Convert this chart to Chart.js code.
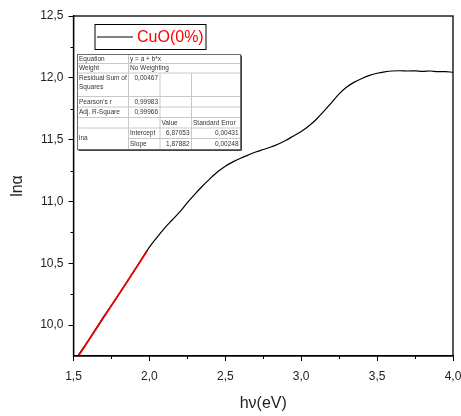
<!DOCTYPE html>
<html>
<head>
<meta charset="utf-8">
<title>CuO (0%)</title>
<script src="https://cdn.jsdelivr.net/npm/chart.js@4.4.1/dist/chart.umd.min.js"></script>
<style>
    html, body { margin: 0; padding: 0; background: #fff; }
    #wrap { width: 461px; height: 416px; }
</style>
</head>
<body>
<div id="wrap"><canvas id="lnChart" width="461" height="416"></canvas></div>
<script>
// photon energy (eV) and ln(alpha) of the measured curve
const energy = [
    1.50, 1.60, 1.70, 1.80, 1.90, 2.00, 2.05, 2.10, 2.15, 2.20,
    2.25, 2.30, 2.35, 2.40, 2.45, 2.50, 2.55, 2.60, 2.65, 2.70,
    2.75, 2.80, 2.85, 2.90, 2.95, 3.00, 3.05, 3.10, 3.15, 3.20,
    3.25, 3.30, 3.35, 3.40, 3.45, 3.50, 3.55, 3.60, 3.65, 3.70,
    3.75, 3.80, 3.85, 3.90, 3.95, 4.00
];
const lnAlpha = [
    9.70, 9.88, 10.07, 10.25, 10.44, 10.63, 10.71, 10.785, 10.85, 10.915,
    10.99, 11.06, 11.125, 11.185, 11.24, 11.285, 11.32, 11.35, 11.375, 11.40,
    11.42, 11.44, 11.465, 11.495, 11.53, 11.565, 11.61, 11.665, 11.73, 11.80,
    11.87, 11.925, 11.965, 11.995, 12.02, 12.037, 12.048, 12.055, 12.057, 12.055,
    12.056, 12.052, 12.055, 12.05, 12.05, 12.045
];

// linear fit y = a + b*x over the low energy part
const fitIntercept = 6.87053;
const fitSlope = 1.87882;
const fitRange = [1.50, 1.985];

// fit report table
const fitTable = {
    equation: 'y = a + b*x',
    weight: 'No Weighting',
    rss: '0,00467',
    pearson: '0,99983',
    adjR2: '0,99966',
    intercept: ['6,87053', '0,00431'],
    slope: ['1,87882', '0,00248']
};

const xTicks = [1.5, 2.0, 2.5, 3.0, 3.5, 4.0];
const yTicks = [10.0, 10.5, 11.0, 11.5, 12.0, 12.5];

const curvePoints = energy.map((e, i) => ({ x: e, y: lnAlpha[i] }));
const fitPoints = fitRange.map(e => ({ x: e, y: fitIntercept + fitSlope * e }));

const comma = v => v.toFixed(1).replace('.', ',');
const isMajor = (list, v) => list.some(t => Math.abs(t - v) < 1e-6);

// box around the plot + short minor ticks
const framePlugin = {
    id: 'frame',
    afterDraw(chart) {
        const { ctx, chartArea: a, scales } = chart;
        ctx.save();
        ctx.strokeStyle = '#000';
        ctx.lineWidth = 1.3;
        ctx.strokeRect(a.left, a.top, a.right - a.left, a.bottom - a.top);

        ctx.lineWidth = 1;
        ctx.beginPath();
        scales.x.ticks.forEach(t => {
            if (isMajor(xTicks, t.value)) return;
            const px = Math.round(scales.x.getPixelForValue(t.value)) + 0.5;
            ctx.moveTo(px, a.bottom);
            ctx.lineTo(px, a.bottom + 3);
        });
        scales.y.ticks.forEach(t => {
            if (isMajor(yTicks, t.value) || t.value < 10) return;
            const py = Math.round(scales.y.getPixelForValue(t.value)) + 0.5;
            ctx.moveTo(a.left, py);
            ctx.lineTo(a.left - 3, py);
        });
        ctx.stroke();
        ctx.restore();
    }
};

// legend box inside the plot
const legendPlugin = {
    id: 'boxLegend',
    afterDraw(chart) {
        const { ctx, chartArea: a } = chart;
        const ds = chart.data.datasets[1];
        const x = a.left + 21.5, y = a.top + 8.5, w = 111, h = 25;
        ctx.save();
        ctx.fillStyle = '#fff';
        ctx.fillRect(x, y, w, h);
        ctx.strokeStyle = '#000';
        ctx.lineWidth = 1;
        ctx.strokeRect(x, y, w, h);
        ctx.beginPath();
        ctx.moveTo(x + 2, y + 12.5);
        ctx.lineTo(x + 38, y + 12.5);
        ctx.strokeStyle = ds.borderColor;
        ctx.stroke();
        ctx.fillStyle = '#ff0000';
        ctx.font = '16px "Liberation Sans", Arial, sans-serif';
        ctx.textBaseline = 'middle';
        ctx.fillText(ds.label, x + 42, y + 13.5);
        ctx.restore();
    }
};

// fit report drawn as a small grid
const tablePlugin = {
    id: 'fitTable',
    afterDraw(chart) {
        const { ctx, chartArea: a } = chart;
        const x0 = a.left + 4, y0 = a.top + 38.5;
        const cols = [51, 31.5, 31.5, 49];
        const rows = [9, 9.5, 23.5, 10.5, 10.5, 10.5, 10.5, 11];
        const cx = [x0];
        cols.forEach(c => cx.push(cx[cx.length - 1] + c));
        const ry = [y0];
        rows.forEach(r => ry.push(ry[ry.length - 1] + r));
        const W = cx[4] - x0, H = ry[8] - y0;

        ctx.save();
        ctx.fillStyle = '#fff';
        ctx.fillRect(x0, y0, W, H);

        const line = (xa, ya, xb, yb) => {
            ctx.moveTo(xa, ya);
            ctx.lineTo(xb, yb);
        };
        ctx.strokeStyle = '#c8c8c8';
        ctx.lineWidth = 1;
        ctx.beginPath();
        for (let r = 1; r < 8; r++) {
            // col 0 is merged over the last two rows
            line(r === 7 ? cx[1] : x0, ry[r], cx[4], ry[r]);
        }
        line(cx[1], y0, cx[1], ry[8]);
        line(cx[2], ry[2], cx[2], ry[8]);
        line(cx[3], ry[2], cx[3], ry[8]);
        ctx.stroke();

        // outer border with a thin shadow
        ctx.strokeStyle = '#6a6a6a';
        ctx.strokeRect(x0, y0, W, H);
        ctx.strokeStyle = '#444';
        ctx.beginPath();
        line(x0 + 1, ry[8] + 1, cx[4] + 1, ry[8] + 1);
        line(cx[4] + 1, y0 + 1, cx[4] + 1, ry[8] + 1);
        ctx.stroke();

        ctx.fillStyle = '#333';
        ctx.font = '6.5px "Liberation Sans", Arial, sans-serif';
        ctx.textBaseline = 'middle';
        const left = (t, c, yy) => { ctx.textAlign = 'left'; ctx.fillText(t, cx[c] + 1.5, yy); };
        const right = (t, c, yy) => { ctx.textAlign = 'right'; ctx.fillText(t, cx[c + 1] - 2, yy); };
        const mid = r => (ry[r] + ry[r + 1]) / 2;

        left('Equation', 0, mid(0));
        left(fitTable.equation, 1, mid(0));
        left('Weight', 0, mid(1));
        left(fitTable.weight, 1, mid(1));
        left('Residual Sum of', 0, ry[2] + 5.5);
        left('Squares', 0, ry[2] + 14.5);
        right(fitTable.rss, 1, ry[2] + 5.5);
        left("Pearson's r", 0, mid(3));
        right(fitTable.pearson, 1, mid(3));
        left('Adj. R-Square', 0, mid(4));
        right(fitTable.adjR2, 1, mid(4));
        left('Value', 2, mid(5));
        left('Standard Error', 3, mid(5));
        left('lna', 0, ry[7]);
        left('Intercept', 1, mid(6));
        right(fitTable.intercept[0], 2, mid(6));
        right(fitTable.intercept[1], 3, mid(6));
        left('Slope', 1, mid(7));
        right(fitTable.slope[0], 2, mid(7));
        right(fitTable.slope[1], 3, mid(7));
        ctx.restore();
    }
};

const tickFont = { family: '"Liberation Sans", Arial, sans-serif', size: 12 };
const titleFont = { family: '"Liberation Sans", Arial, sans-serif', size: 16 };

new Chart(document.getElementById('lnChart'), {
    type: 'line',
    data: {
        datasets: [
            {
                label: 'fit',
                data: fitPoints,
                borderColor: '#f00000',
                borderWidth: 1.7,
                pointRadius: 0,
                order: 0
            },
            {
                label: 'CuO(0%)',
                data: curvePoints,
                borderColor: '#000',
                borderWidth: 1.2,
                pointRadius: 0,
                cubicInterpolationMode: 'monotone',
                order: 1
            }
        ]
    },
    options: {
        responsive: false,
        animation: false,
        layout: { padding: { top: 16, right: 8, left: 0, bottom: 0 } },
        plugins: {
            legend: { display: false },
            tooltip: { enabled: false }
        },
        scales: {
            x: {
                type: 'linear',
                min: 1.5,
                max: 4.0,
                afterFit(scale) {
                    scale.height = 60;
                    scale.paddingLeft = 0;
                    scale.paddingRight = 0;
                },
                ticks: {
                    stepSize: 0.25,
                    autoSkip: false,
                    maxRotation: 0,
                    padding: 8,
                    color: '#222',
                    font: tickFont,
                    callback: v => isMajor(xTicks, v) ? comma(v) : ''
                },
                grid: {
                    drawOnChartArea: false,
                    tickLength: 5,
                    tickColor: c => isMajor(xTicks, c.tick.value) ? '#000' : 'rgba(0,0,0,0)'
                },
                border: { color: '#000', width: 1.3 },
                title: {
                    display: true,
                    text: 'hν(eV)',
                    color: '#222',
                    font: titleFont,
                    padding: { top: 6, bottom: 3 }
                }
            },
            y: {
                min: 9.75,
                max: 12.5,
                afterFit(scale) {
                    scale.width = 73.5;
                    scale.paddingTop = 0;
                    scale.paddingBottom = 0;
                },
                ticks: {
                    stepSize: 0.25,
                    autoSkip: false,
                    padding: 5,
                    color: '#222',
                    font: tickFont,
                    callback: v => isMajor(yTicks, v) ? comma(v) : ''
                },
                grid: {
                    drawOnChartArea: false,
                    tickLength: 5,
                    tickColor: c => isMajor(yTicks, c.tick.value) ? '#000' : 'rgba(0,0,0,0)'
                },
                border: { color: '#000', width: 1.3 },
                title: {
                    display: true,
                    text: 'lnα',
                    color: '#222',
                    font: titleFont,
                    padding: { top: 8, bottom: 4 }
                }
            }
        }
    },
    plugins: [framePlugin, legendPlugin, tablePlugin]
});
</script>
</body>
</html>
